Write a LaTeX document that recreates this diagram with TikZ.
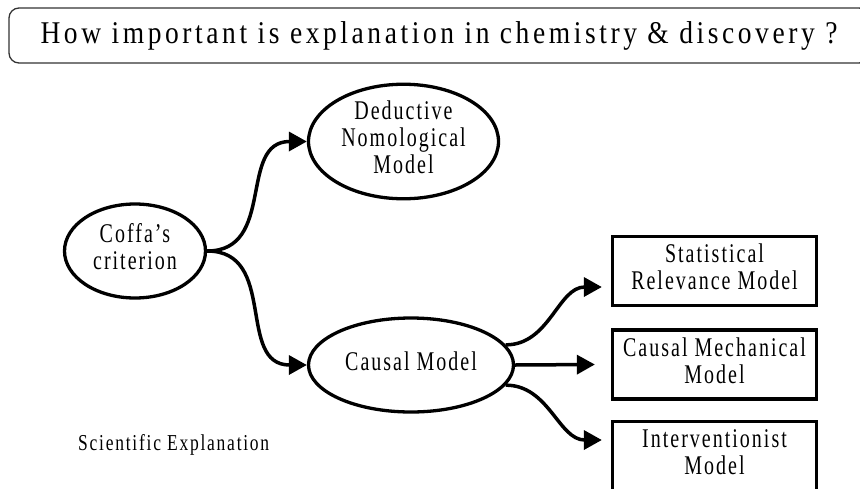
\documentclass[tikz,border=0pt]{standalone}
\usepackage{graphicx}
\usepackage{fontspec}
\setmainfont{Liberation Serif}
\newfontfamily\nodefont[LetterSpace=10]{Liberation Serif}
\newfontfamily\ttlfont[LetterSpace=13]{Liberation Serif}
\usetikzlibrary{shapes.geometric,arrows.meta}
\newcommand\vst[1]{\scalebox{1}[1.35]{\begin{tabular}{@{}c@{}}#1\end{tabular}}}
\tikzset{
  ell/.style={ellipse, draw, line width=3.3pt, inner sep=0pt,
    font=\nodefont\fontsize{20}{20}\selectfont},
  boxnode/.style={rectangle, draw, line width=3.3pt, inner sep=0pt,
    minimum width=204pt, minimum height=69pt,
    font=\nodefont\fontsize{20}{20}\selectfont},
  arr/.style={line width=3.5pt, -{Triangle[length=18pt,width=19pt]}},
}
\begin{document}
\begin{tikzpicture}[x=1pt,y=-1pt]
\useasboundingbox (0,0) rectangle (860,488);
\clip (0,0) rectangle (860,488);
\node[rectangle, rounded corners=10pt, draw=black!80, line width=1.3pt,
      minimum width=860pt, minimum height=55pt, inner sep=0pt,
      font=\ttlfont\fontsize{27.5}{27.5}\selectfont] (title) at (439,35.5)
  {\raisebox{-2pt}{\scalebox{1}[1.15]{How important is explanation in chemistry \& discovery ?}}};
\node[ell, minimum width=141pt, minimum height=94pt] (coffa) at (135,251) {\vst{Coffa’s\\criterion}};
\node[ell, minimum width=190pt, minimum height=94pt] (dn) at (403.5,141.5) {\raisebox{-4pt}{\vst{Deductive\\Nomological\\Model}}};
\node[ell, minimum width=205pt, minimum height=94pt] (causal) at (411,365) {\raisebox{-2pt}{\vst{Causal Model}}};
\node[boxnode] (sr) at (714.5,271) {\vst{Statistical\\Relevance Model}};
\node[boxnode] (cm) at (714.5,364.5) {\vst{Causal Mechanical\\Model}};
\node[boxnode] (int) at (714.5,456) {\vst{Interventionist\\Model}};
\node[anchor=base west, inner sep=0pt, font=\nodefont\fontsize{17.5}{17.5}\selectfont] (sci) at (78,450) {\scalebox{1}[1.3]{Scientific Explanation}};
\draw[arr] (coffa.east) to[out=0,in=180,looseness=1.2] (dn.west);
\draw[arr] (coffa.east) to[out=0,in=180,looseness=1.2] (causal.west);
\draw[arr] (causal.12) to[out=0,in=180] ([xshift=-9pt,yshift=-16pt]sr.west);
\draw[arr] (causal.east) -- ([xshift=-16pt]cm.west);
\draw[arr] (causal.-12) to[out=0,in=180] ([xshift=-9pt,yshift=16pt]int.west);
\end{tikzpicture}
\end{document}
